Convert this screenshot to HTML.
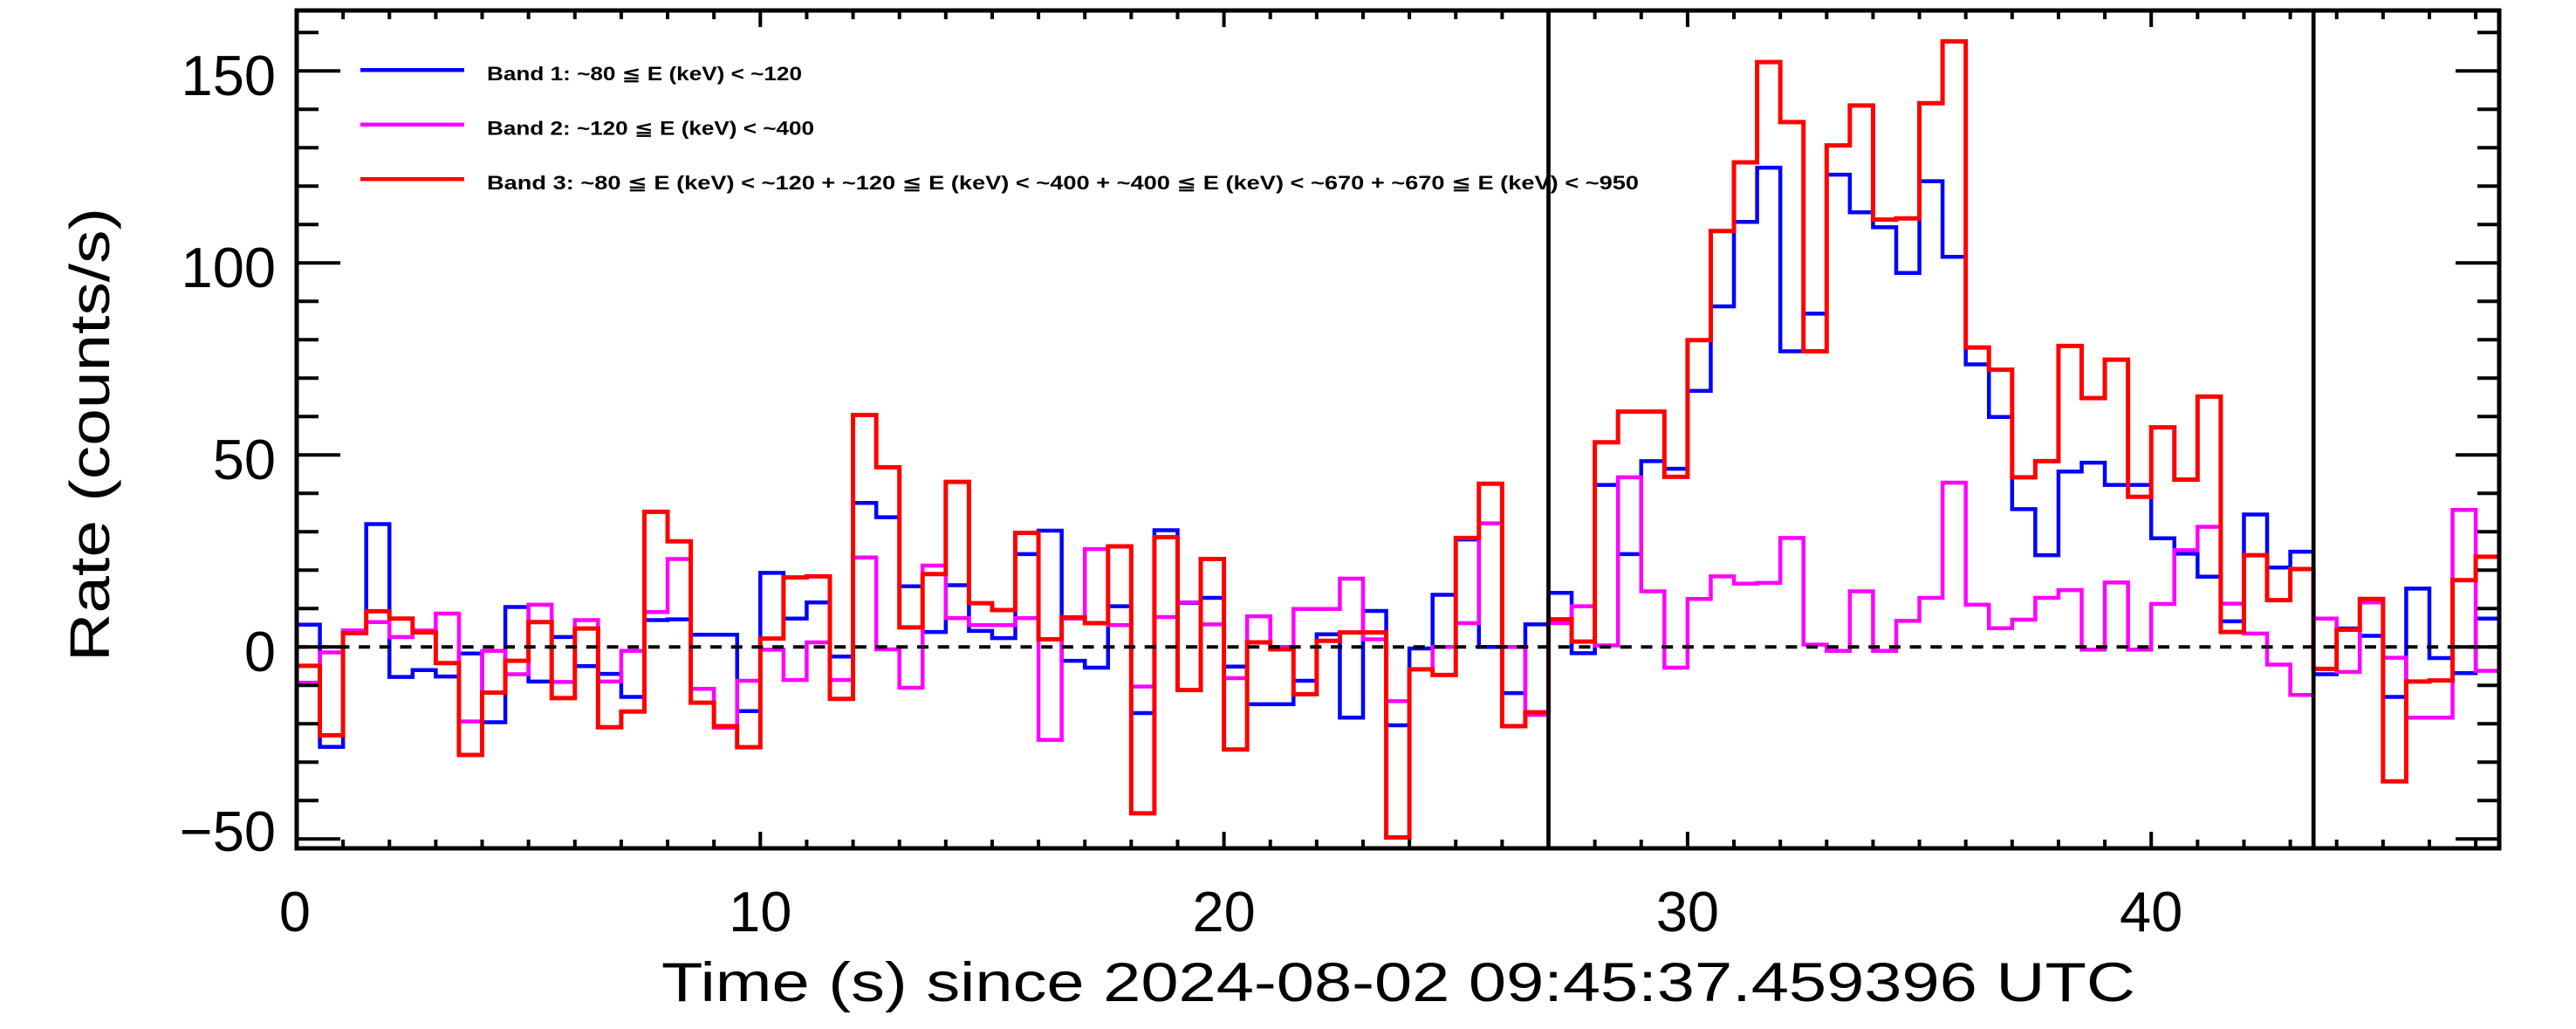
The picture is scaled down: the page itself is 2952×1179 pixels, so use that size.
<!DOCTYPE html>
<html>
<head>
<meta charset="utf-8">
<style>
html,body{margin:0;padding:0;background:#fff;}
svg{display:block;}
text{font-family:"Liberation Sans",sans-serif;fill:#000;}
.le{font-family:"DejaVu Sans","Liberation Sans",sans-serif;}
</style>
</head>
<body>
<svg width="2952" height="1179" viewBox="0 0 2952 1179" xmlns="http://www.w3.org/2000/svg">
<rect x="0" y="0" width="2952" height="1179" fill="#fff"/>

<!-- data series -->
<g transform="translate(340,741.3) scale(53.13,-4.4)" fill="none" stroke-linejoin="miter" stroke-linecap="square">
<path vector-effect="non-scaling-stroke" stroke="#0000ff" stroke-width="4.5" d="M0 5.8H0.5V-26H1V4H1.5V32H2V-7.8H2.5V-6H3V-7.7H3.5V-1.7H4V-19.6H4.5V10.4H5V-9H5.5V2.6H6V-5H6.5V-7H7V-13H7.5V7H8V7.2H8.5V3.2H9V3.2H9.5V-16.7H10V19.3H10.5V7.4H11V11.6H11.5V-2.5H12V37.5H12.5V33.8H13V15.8H13.5V3.9H14V16.1H14.5V4.2H15V2.3H15.5V24.2H16V30.3H16.5V-3.6H17V-5.4H17.5V10.6H18V-17.2H18.5V30.4H19V11.5H19.5V12.8H20V-5.1H20.5V-14.9H21V-14.9H21.5V-8.8H22V3.3H22.5V-18.4H23V9.4H23.5V-20.4H24V-0.4H24.5V13.6H25V28H25.5V0H26V-12H26.5V5.9H27V14.1H27.5V-1.6H28V42.2H28.5V24.2H29V48.4H29.5V46.4H30V66.7H30.5V88.7H31V110.7H31.5V124.8H32V77H32.5V86.8H33V123H33.5V113.2H34V109.3H34.5V97.4H35V121.3H35.5V101.6H36V73.6H36.5V59.9H37V35.9H37.5V23.9H38V45.7H38.5V48H39V42.2H39.5V42.2H40V28.3H40.5V24.3H41V18.3H41.5V6.7H42V34.5H42.5V20.7H43V24.8H43.5V-7.1H44V4.8H44.5V2.9H45V-13H45.5V15.2H46V-2.9H46.5V-6.8H47V7.4H47.5"/>
<path vector-effect="non-scaling-stroke" stroke="#ff00ff" stroke-width="4.5" d="M0 -9.3H0.5V-1.4H1V4.3H1.5V6.5H2V2.6H2.5V4.3H3V8.7H3.5V-19.4H4V-1H4.5V-7.1H5V11H5.5V-9.1H6V7H6.5V-9H7V-1H7.5V9.1H8V22.9H8.5V-10.9H9V-21H9.5V-8.8H10V-0.7H10.5V-8.6H11V1.2H11.5V-8.6H12V23.3H12.5V-0.6H13V-10.6H13.5V21.2H14V7.5H14.5V5.7H15V5.7H15.5V7.5H16V-24.2H16.5V7.4H17V25.5H17.5V5.7H18V-10.3H18.5V7.8H19V11.6H19.5V5.9H20V-8.1H20.5V8H21V0H21.5V9.9H22V9.9H22.5V17.8H23V2H23.5V-14.1H24V-5.8H24.5V0H25V6.2H25.5V32.2H26V0H26.5V-17.7H27V6.2H27.5V10.6H28V0.4H28.5V44.2H29V14.5H29.5V-5.4H30V12.5H30.5V18.4H31V16.5H31.5V16.7H32V28.4H32.5V0.6H33V-1H33.5V14.5H34V-1H34.5V6.8H35V12.8H35.5V42.8H36V11H36.5V4.9H37V7.1H37.5V12.8H38V14.8H38.5V-0.7H39V16.8H39.5V-0.7H40V11.2H40.5V25.2H41V31.3H41.5V11.3H42V3.5H42.5V-4.6H43V-12.5H43.5V7.4H44V-6.5H44.5V11.6H45V-2.8H45.5V-18.4H46V-18.4H46.5V35.7H47V-6.2H47.5"/>
<path vector-effect="non-scaling-stroke" stroke="#ff0000" stroke-width="5" d="M0 -4.9H0.5V-23H1V3.6H1.5V9.3H2V7.4H2.5V3.8H3V-4.2H3.5V-28.1H4V-11.9H4.5V-3.6H5V6.5H5.5V-13.3H6V4.8H6.5V-20.9H7V-16.8H7.5V35.2H8V27.5H8.5V-14.5H9V-20.6H9.5V-26.1H10V2.2H10.5V18.1H11V18.4H11.5V-13.5H12V60.4H12.5V46.8H13V5.1H13.5V19H14V43H14.5V11.4H15V9.6H15.5V29.7H16V2H16.5V7.7H17V6.2H17.5V26.2H18V-43.3H18.5V28.6H19V-11.2H19.5V22.9H20V-26.7H20.5V1.2H21V-0.6H21.5V-12.3H22V1.6H22.5V3.8H23V3.8H23.5V-49.6H24V-5.8H24.5V-7.3H25V28.4H25.5V42.5H26V-20.6H26.5V-17H27V7.2H27.5V1.4H28V53.3H28.5V61.3H29V61.3H29.5V44.3H30V79.9H30.5V108.3H31V126.2H31.5V152.3H32V136.7H32.5V77H33V130.6H33.5V141H34V111.3H34.5V111.6H35V141.6H35.5V157.7H36V78H36.5V72.2H37V44.2H37.5V48.4H38V78.4H38.5V64.8H39V74.8H39.5V39.1H40V57.2H40.5V43.6H41V65.2H41.5V3.9H42V23.9H42.5V12.2H43V20.3H43.5V-5.7H44V4.5H44.5V12.5H45V-35H45.5V-9H46V-8.7H46.5V17.4H47V23.5H47.5"/>
</g>

<!-- zero dashed line -->
<line x1="340" y1="741.3" x2="2864" y2="741.3" stroke="#000" stroke-width="4" stroke-dasharray="13 10.7"/>

<!-- legend -->
<line x1="413" y1="80.3" x2="532" y2="80.3" stroke="#0000ff" stroke-width="4.5"/>
<line x1="413" y1="142.8" x2="532" y2="142.8" stroke="#ff00ff" stroke-width="4.5"/>
<line x1="413" y1="205.3" x2="532" y2="205.3" stroke="#ff0000" stroke-width="4.5"/>
<text x="558" y="92" font-size="22" font-weight="bold" textLength="361" lengthAdjust="spacingAndGlyphs">Band 1: ~80 <tspan class="le">≦</tspan> E (keV) &lt; ~120</text>
<text x="558" y="154.5" font-size="22" font-weight="bold" textLength="375" lengthAdjust="spacingAndGlyphs">Band 2: ~120 <tspan class="le">≦</tspan> E (keV) &lt; ~400</text>
<text x="558" y="217" font-size="22" font-weight="bold" textLength="1320" lengthAdjust="spacingAndGlyphs">Band 3: ~80 <tspan class="le">≦</tspan> E (keV) &lt; ~120 + ~120 <tspan class="le">≦</tspan> E (keV) &lt; ~400 + ~400 <tspan class="le">≦</tspan> E (keV) &lt; ~670 + ~670 <tspan class="le">≦</tspan> E (keV) &lt; ~950</text>

<!-- vertical marker lines -->
<line x1="1774.5" y1="12" x2="1774.5" y2="972" stroke="#000" stroke-width="4.7"/>
<line x1="2651.2" y1="12" x2="2651.2" y2="972" stroke="#000" stroke-width="4.7"/>

<!-- axis box -->
<rect x="340" y="12" width="2524" height="960" fill="none" stroke="#000" stroke-width="5"/>

<!-- x ticks -->
<g transform="translate(340,0) scale(53.13,1)" fill="none" stroke="#000">
<path vector-effect="non-scaling-stroke" stroke-width="4" d="M1 972V962M2 972V962M3 972V962M4 972V962M5 972V962M6 972V962M7 972V962M8 972V962M9 972V962M11 972V962M12 972V962M13 972V962M14 972V962M15 972V962M16 972V962M17 972V962M18 972V962M19 972V962M21 972V962M22 972V962M23 972V962M24 972V962M25 972V962M26 972V962M27 972V962M28 972V962M29 972V962M31 972V962M32 972V962M33 972V962M34 972V962M35 972V962M36 972V962M37 972V962M38 972V962M39 972V962M41 972V962M42 972V962M43 972V962M44 972V962M45 972V962M46 972V962M47 972V962M10 972V953M20 972V953M30 972V953M40 972V953"/>
<path vector-effect="non-scaling-stroke" stroke-width="4" d="M1 12V22M2 12V22M3 12V22M4 12V22M5 12V22M6 12V22M7 12V22M8 12V22M9 12V22M11 12V22M12 12V22M13 12V22M14 12V22M15 12V22M16 12V22M17 12V22M18 12V22M19 12V22M21 12V22M22 12V22M23 12V22M24 12V22M25 12V22M26 12V22M27 12V22M28 12V22M29 12V22M31 12V22M32 12V22M33 12V22M34 12V22M35 12V22M36 12V22M37 12V22M38 12V22M39 12V22M41 12V22M42 12V22M43 12V22M44 12V22M45 12V22M46 12V22M47 12V22M10 12V31M20 12V31M30 12V31M40 12V31"/>
</g>

<!-- y ticks -->
<g transform="translate(0,741.3) scale(1,-4.4)" fill="none" stroke="#000">
<path vector-effect="non-scaling-stroke" stroke-width="4" d="M340 -40H365M340 -30H365M340 -20H365M340 -10H365M340 10H365M340 20H365M340 30H365M340 40H365M340 60H365M340 70H365M340 80H365M340 90H365M340 110H365M340 120H365M340 130H365M340 140H365M340 160H365M340 -50H390M340 0H390M340 50H390M340 100H390M340 150H390"/>
<path vector-effect="non-scaling-stroke" stroke-width="4" d="M2864 -40H2839M2864 -30H2839M2864 -20H2839M2864 -10H2839M2864 10H2839M2864 20H2839M2864 30H2839M2864 40H2839M2864 60H2839M2864 70H2839M2864 80H2839M2864 90H2839M2864 110H2839M2864 120H2839M2864 130H2839M2864 140H2839M2864 160H2839M2864 -50H2814M2864 0H2814M2864 50H2814M2864 100H2814M2864 150H2814"/>
</g>

<!-- y tick labels -->
<text x="316" y="109" font-size="65" text-anchor="end">150</text>
<text x="316" y="329" font-size="65" text-anchor="end">100</text>
<text x="316" y="549" font-size="65" text-anchor="end">50</text>
<text x="316" y="769" font-size="65" text-anchor="end">0</text>
<text x="316" y="975" font-size="65" text-anchor="end">−50</text>

<!-- x tick labels -->
<text x="338" y="1067" font-size="65" text-anchor="middle">0</text>
<text x="871.3" y="1067" font-size="65" text-anchor="middle">10</text>
<text x="1402.6" y="1067" font-size="65" text-anchor="middle">20</text>
<text x="1933.9" y="1067" font-size="65" text-anchor="middle">30</text>
<text x="2465.2" y="1067" font-size="65" text-anchor="middle">40</text>

<!-- axis titles -->
<text x="758" y="1147" font-size="63" textLength="1689" lengthAdjust="spacingAndGlyphs">Time (s) since 2024-08-02 09:45:37.459396 UTC</text>
<text transform="translate(125,498) rotate(-90)" x="0" y="0" font-size="64" text-anchor="middle" textLength="520" lengthAdjust="spacingAndGlyphs">Rate (counts/s)</text>
</svg>
</body>
</html>
